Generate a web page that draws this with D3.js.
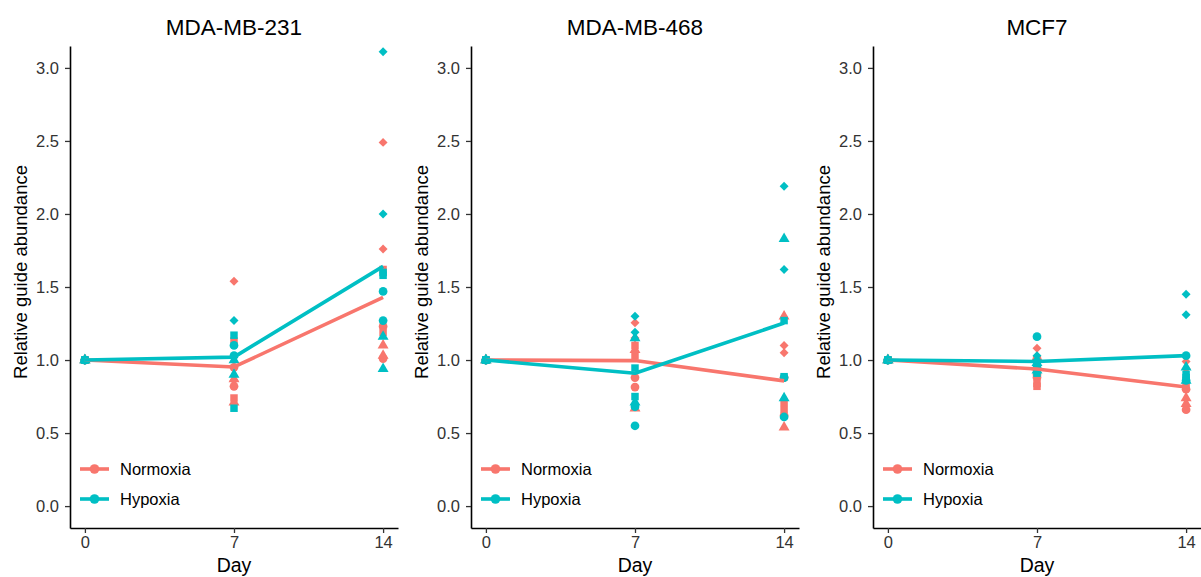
<!DOCTYPE html>
<html>
<head>
<meta charset="utf-8">
<script src="https://cdn.jsdelivr.net/npm/d3@7"></script>
<style>
  html, body { margin: 0; padding: 0; background: #fff; }
  svg { display: block; font-family: "Liberation Sans", Arial, sans-serif; }
</style>
</head>
<body>
<svg id="chart" width="1201" height="577"></svg>
<script>
// Cell lines, days and conditions
const cellLines = ["MDA-MB-231", "MDA-MB-468", "MCF7"];
const days = [0, 7, 14];
const dayTicks = ["0", "7", "14"];
const yTicks = [0, 0.5, 1, 1.5, 2, 2.5, 3];
const conditions = ["Normoxia", "Hypoxia"];
const conditionColors = ["#F8766D", "#00BFC4"];
// Guide shape for each of the 8 values per group (4 guides x 2 replicates)
const guideShapes = ["circle", "circle", "triangle", "triangle", "square", "square", "diamond", "diamond"];

// Day 0 is the reference point: every guide is 1.0
const day0 = [1, 1, 1, 1, 1, 1, 1, 1];

// MDA-MB-231
const mb231NormoxiaD7  = [0.82, 0.95, 0.87, 0.71, 1.13, 0.74, 1.54, 0.86];
const mb231HypoxiaD7   = [1.10, 1.03, 0.90, 1.00, 1.17, 0.67, 1.27, 1.02];
const mb231NormoxiaD14 = [1.23, 1.01, 1.10, 1.03, 1.62, 1.19, 2.49, 1.76];
const mb231HypoxiaD14  = [1.47, 1.27, 1.16, 0.94, 1.60, 1.58, 3.11, 2.00];

// MDA-MB-468
const mb468NormoxiaD7  = [0.88, 0.815, 1.07, 0.67, 1.03, 1.10, 1.255, 1.15];
const mb468HypoxiaD7   = [0.55, 0.68, 1.15, 0.71, 0.945, 0.75, 1.30, 1.19];
const mb468NormoxiaD14 = [0.62, 0.88, 1.30, 0.54, 0.71, 0.66, 1.10, 1.05];
const mb468HypoxiaD14  = [0.61, 0.88, 1.83, 0.74, 1.27, 0.886, 2.19, 1.62];

// MCF7
const mcf7NormoxiaD7  = [0.88, 0.90, 0.95, 1.02, 0.84, 0.82, 1.08, 1.02];
const mcf7HypoxiaD7   = [1.16, 0.95, 0.98, 0.93, 0.91, 0.96, 1.00, 1.03];
const mcf7NormoxiaD14 = [0.66, 0.80, 0.74, 0.70, 0.83, 0.86, 0.99, 0.94];
const mcf7HypoxiaD14  = [1.03, 0.86, 0.95, 0.86, 0.90, 0.88, 1.45, 1.31];

// [cell line][condition] -> values per day
const panelValues = [
  [[day0, mb231NormoxiaD7, mb231NormoxiaD14], [day0, mb231HypoxiaD7, mb231HypoxiaD14]],
  [[day0, mb468NormoxiaD7, mb468NormoxiaD14], [day0, mb468HypoxiaD7, mb468HypoxiaD14]],
  [[day0, mcf7NormoxiaD7, mcf7NormoxiaD14],   [day0, mcf7HypoxiaD7, mcf7HypoxiaD14]]
];

const svg = d3.select("#chart");
const panelLeft = [70, 471, 873];
const panelWidth = 328;
const plotTop = 46, plotBottom = 528;

const y = d3.scaleLinear().domain([-0.15, 3.15]).range([plotBottom, plotTop]);

const symbolFor = {
  circle:   d3.symbol().type(d3.symbolCircle).size(60),
  triangle: d3.symbol().type(d3.symbolTriangle).size(52),
  square:   d3.symbol().type(d3.symbolSquare).size(56),
  diamond:  d3.symbol().type(d3.symbolSquare).size(40)
};

cellLines.forEach((name, p) => {
  const left = panelLeft[p];
  const x = d3.scaleLinear().domain([-0.7, 14.7]).range([left, left + panelWidth]);
  const g = svg.append("g");

  // Points, Normoxia first so Hypoxia sits on top
  conditions.forEach((cond, c) => {
    const pts = [];
    days.forEach((day, di) => {
      panelValues[p][c][di].forEach((v, k) => pts.push({ day, v, shape: guideShapes[k] }));
    });
    g.append("g").selectAll("path").data(pts).join("path")
      .attr("d", d => symbolFor[d.shape]())
      .attr("transform", d => `translate(${x(d.day)},${y(d.v)})` + (d.shape === "diamond" ? " rotate(45)" : ""))
      .attr("fill", conditionColors[c]);
  });

  // Mean lines
  const line = d3.line().x(d => x(d.day)).y(d => y(d.mean));
  conditions.forEach((cond, c) => {
    const means = days.map((day, di) => ({ day, mean: d3.mean(panelValues[p][c][di]) }));
    g.append("path").datum(means)
      .attr("d", line)
      .attr("fill", "none")
      .attr("stroke", conditionColors[c])
      .attr("stroke-width", 3.6)
      .attr("stroke-linejoin", "round");
  });

  // Axes
  const yAxis = g.append("g").attr("transform", `translate(${left},0)`)
    .call(d3.axisLeft(y).tickValues(yTicks).tickFormat(d3.format(".1f")).tickSize(5).tickSizeOuter(0));
  const xAxis = g.append("g").attr("transform", `translate(0,${plotBottom})`)
    .call(d3.axisBottom(x).tickValues(days).tickFormat((d, i) => dayTicks[i]).tickSize(5).tickSizeOuter(0));
  [yAxis, xAxis].forEach(a => {
    a.select(".domain").attr("stroke", "#000").attr("stroke-width", 1.6);
    a.selectAll(".tick line").attr("stroke", "#333").attr("stroke-width", 1.3);
    a.selectAll(".tick text").attr("fill", "#333").attr("font-size", 16.5)
      .attr("font-family", "Liberation Sans, Arial, sans-serif");
  });
  yAxis.selectAll(".tick text").attr("x", -11);
  xAxis.selectAll(".tick text").attr("y", 8);

  // Titles
  g.append("text").attr("x", left + panelWidth / 2).attr("y", 35)
    .attr("text-anchor", "middle").attr("font-size", 22.5).attr("fill", "#000").text(name);
  g.append("text").attr("x", left + panelWidth / 2).attr("y", 572)
    .attr("text-anchor", "middle").attr("font-size", 19.5).attr("fill", "#000").text("Day");
  g.append("text")
    .attr("transform", `translate(${left - 43},272) rotate(-90)`)
    .attr("text-anchor", "middle").attr("font-size", 18.5).attr("fill", "#000")
    .text("Relative guide abundance");

  // Legend
  const legend = g.append("g").attr("transform", `translate(${left + 10},469)`);
  conditions.forEach((cond, c) => {
    const row = legend.append("g").attr("transform", `translate(0,${c * 30})`);
    row.append("line").attr("x1", 0).attr("x2", 29).attr("y1", 0).attr("y2", 0)
      .attr("stroke", conditionColors[c]).attr("stroke-width", 3.6);
    row.append("circle").attr("cx", 14.5).attr("cy", 0).attr("r", 4.8).attr("fill", conditionColors[c]);
    row.append("text").attr("x", 40).attr("y", 0).attr("dy", "0.35em")
      .attr("font-size", 16.5).attr("fill", "#000").text(cond);
  });
});
</script>
</body>
</html>
